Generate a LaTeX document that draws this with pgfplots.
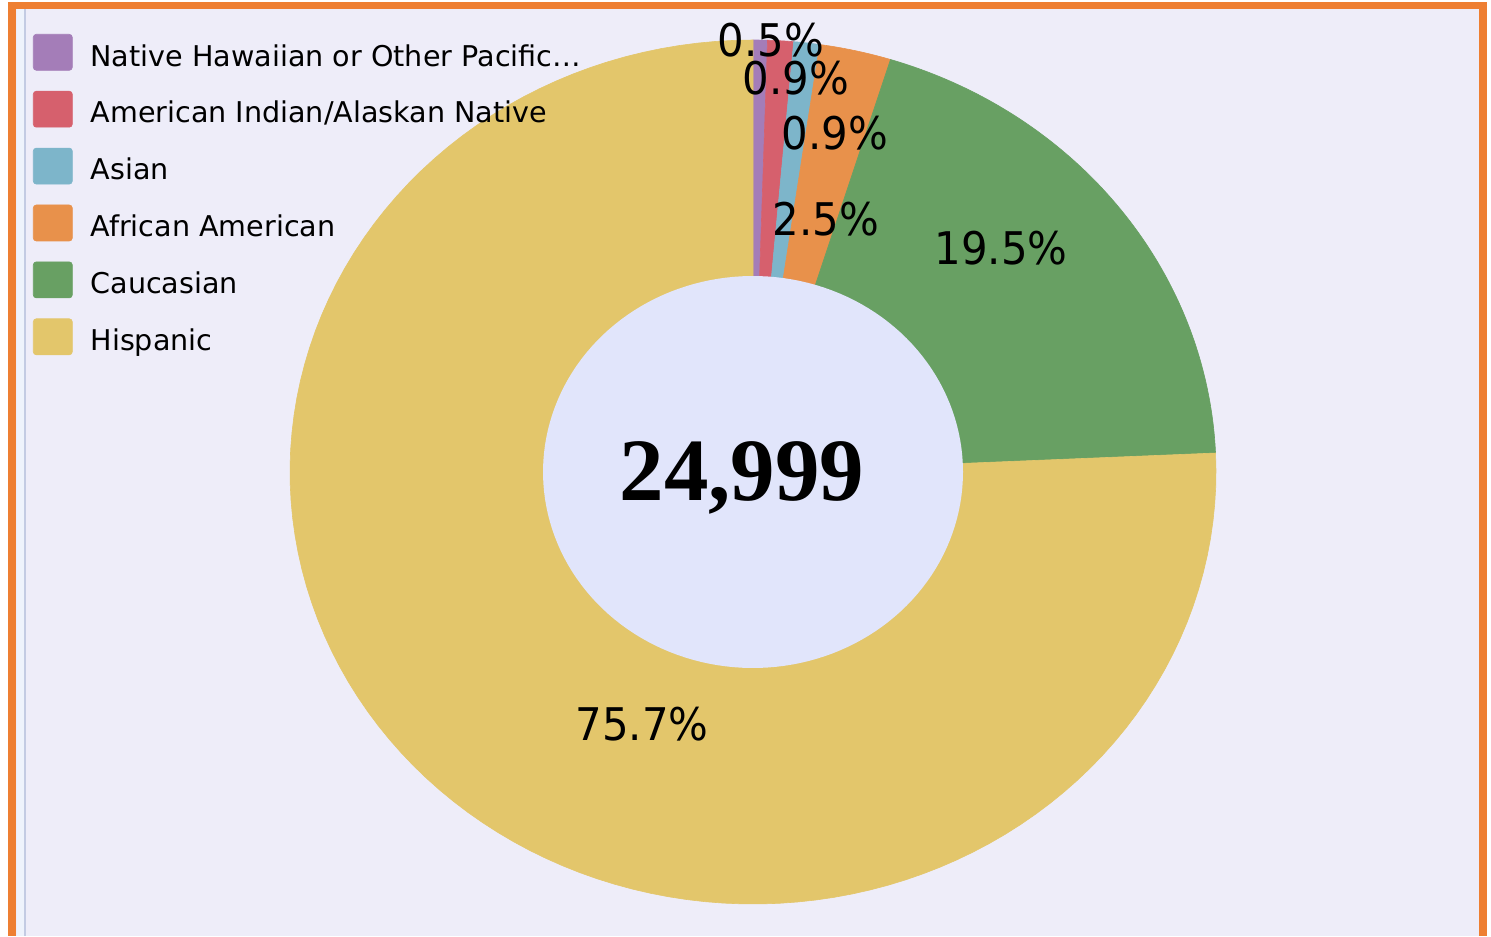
\documentclass[border=0pt]{standalone}
\usepackage{pgfplots}
\usepackage{pgfplotstable}
\pgfplotsset{compat=1.18}
\usepackage{fontspec}
\setmainfont{DejaVu Sans}
\newfontfamily\numfont{Liberation Serif}

\definecolor{frame}{HTML}{EE7F32}
\definecolor{bg}{HTML}{EEEDF9}
\definecolor{strip}{HTML}{EEF3FC}
\definecolor{edge}{HTML}{C3CBE3}
\definecolor{hole}{HTML}{E1E5FB}
\definecolor{cNH}{HTML}{A47DB8}
\definecolor{cAI}{HTML}{D6606D}
\definecolor{cAS}{HTML}{7DB5CA}
\definecolor{cAA}{HTML}{E8914B}
\definecolor{cCA}{HTML}{68A063}
\definecolor{cHI}{HTML}{E3C66B}

% share in percent, slice colour, label position in pixels
\pgfplotstableread{
share color lx ly
0.5  cNH 771  57
0.9  cAI 796  95
0.9  cAS 835  150
2.5  cAA 826  235
19.5 cCA 1001 264
75.7 cHI 642  740
}\slices

% donut geometry in pixels (1 px = 0.5 pt)
\def\cx{753}\def\cy{472}
\def\rx{463}\def\ry{432}
\def\rxin{210}\def\ryin{196}
\newcommand\labelfont{\fontsize{22.5}{26}\selectfont}

\begin{document}
\begin{tikzpicture}
\fill[white] (0,0) rectangle (745.5pt,468pt);
\fill[frame] (4pt,0) rectangle (743.5pt,467pt);
\fill[bg] (8pt,0) rectangle (739.5pt,463.5pt);
\fill[strip] (8.5pt,0) rectangle (12pt,463.5pt);
\fill[edge] (12pt,0) rectangle (13pt,463.5pt);
\begin{axis}[
  at={(0,0)}, anchor=south west,
  scale only axis, width=745.5pt, height=468pt,
  xmin=0, xmax=1491, ymin=0, ymax=936, y dir=reverse,
  hide axis, clip=false,
  legend cell align=left,
  legend style={at={(0.02213,0.96368)}, anchor=north west,
    draw=none, fill=none, inner sep=0pt, outer sep=0pt,
    row sep=10.15pt, column sep=9pt,
    font=\fontsize{14.3}{16}\selectfont, nodes={inner sep=0pt}},
  legend image code/.code={\fill[#1, rounded corners=1.5pt] (0pt,-6.8pt) rectangle (19.5pt,11.2pt);},
]
\pgfmathsetmacro\cum{0}
\pgfplotsforeachungrouped \i in {0,...,5}{
  \pgfplotstablegetelem{\i}{share}\of\slices \let\sh\pgfplotsretval
  \pgfplotstablegetelem{\i}{color}\of\slices \let\col\pgfplotsretval
  \pgfmathsetmacro\ta{90-3.6*\cum}
  \pgfmathsetmacro\cum{\cum+\sh}
  \pgfmathsetmacro\tb{90-3.6*\cum}
  \edef\doslice{\noexpand\addplot[fill=\col, draw=\col, line width=0.3pt,
      domain=\tb:\ta, samples=120]
    ({\cx+\rx*cos(x)},{\cy-\ry*sin(x)}) -- (axis cs:\cx,\cy) -- cycle;}
  \doslice
}
\addplot[forget plot, fill=hole, draw=none, domain=0:360, samples=160]
  ({\cx+\rxin*cos(x)},{\cy-\ryin*sin(x)}) -- cycle;
\legend{Native Hawaiian or Other Pacific…, American Indian/Alaskan Native,
  Asian, African American, Caucasian, Hispanic}
\pgfplotsforeachungrouped \i in {0,...,5}{
  \pgfplotstablegetelem{\i}{share}\of\slices \let\sh\pgfplotsretval
  \pgfplotstablegetelem{\i}{lx}\of\slices \let\lx\pgfplotsretval
  \pgfplotstablegetelem{\i}{ly}\of\slices \let\ly\pgfplotsretval
  \edef\dolabel{\noexpand\node[font=\noexpand\labelfont, xscale=0.93,
      anchor=base, inner sep=0pt] at (axis cs:\lx,\ly) {\sh\noexpand\%};}
  \dolabel
}
\node[font={\numfont\bfseries\fontsize{44.5}{50}\selectfont}, anchor=base,
  inner sep=0pt] at (axis cs:742,500) {24,999};
\end{axis}
\end{tikzpicture}
\end{document}
